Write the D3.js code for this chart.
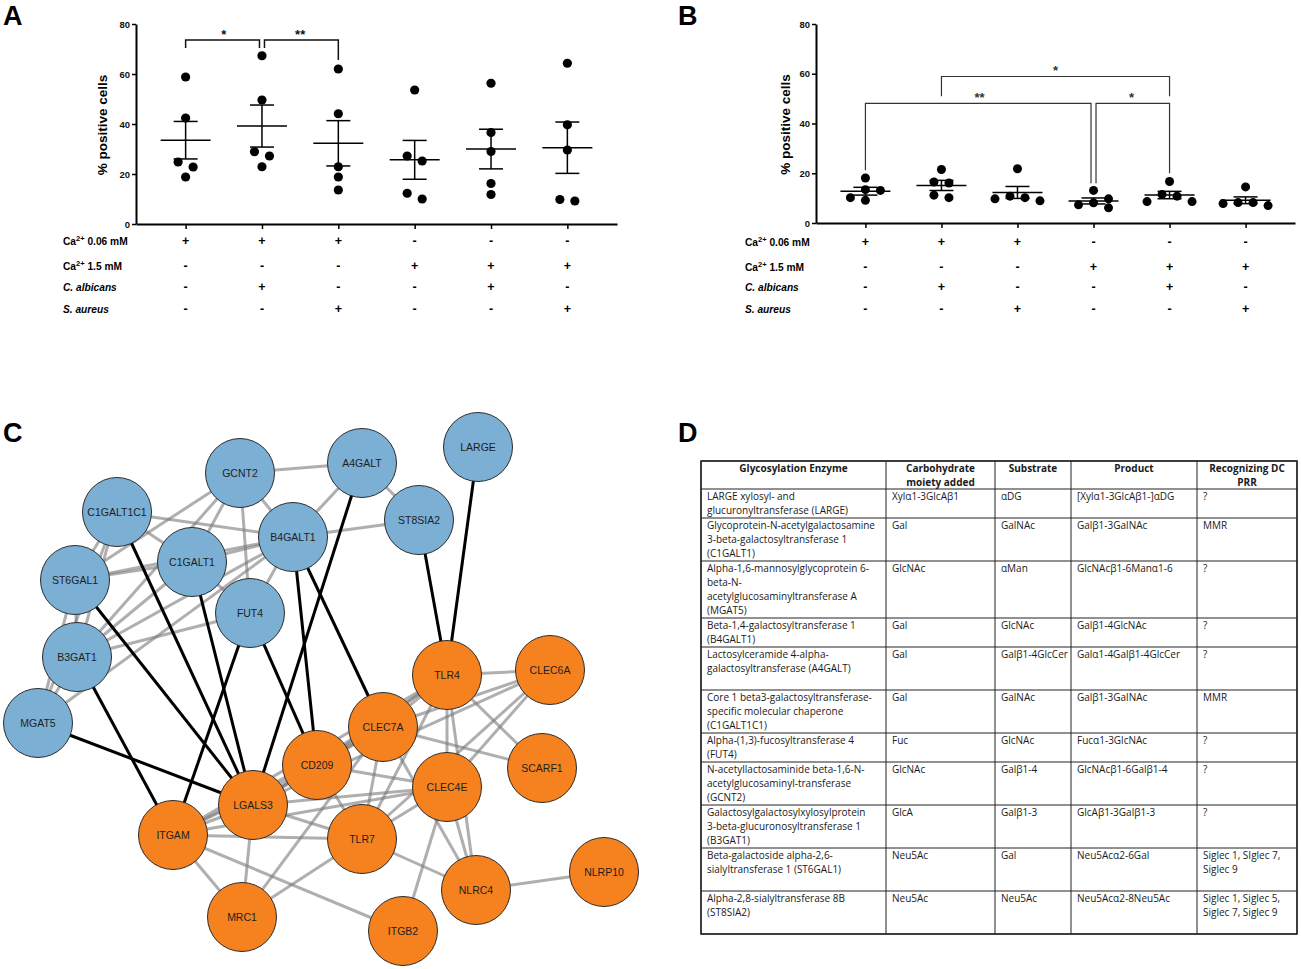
<!DOCTYPE html>
<html>
<head>
<meta charset="utf-8">
<script src="https://cdn.jsdelivr.net/npm/d3@7"></script>
<style>
  body { margin: 0; background: #fff; }
</style>
</head>
<body>
<div id="chart"></div>
<script>
const width = 1301;
const height = 969;

// ---- panels A / B : % positive cells per condition ----
const conditions = ['Ca2+ 0.06 mM', 'Ca2+ 1.5 mM', 'C. albicans', 'S. aureus'];
const condition_signs = [
  ['+', '+', '+', '-', '-', '-'],
  ['-', '-', '-', '+', '+', '+'],
  ['-', '+', '-', '-', '+', '-'],
  ['-', '-', '+', '-', '-', '+']
];
const y_ticks = [0, 20, 40, 60, 80];
const values_a = [
  [58.8, 42.4, 24.8, 22.8, 18.8],
  [67.3, 49.6, 28.9, 27.2, 22.9],
  [62.0, 44.1, 22.9, 18.8, 13.6],
  [53.6, 27.2, 25.2, 12.3, 10.0],
  [56.3, 36.6, 29.0, 16.2, 11.8],
  [64.3, 39.7, 29.6, 9.8, 9.2]
];
const values_b = [
  [18.1, 13.4, 13.1, 10.2, 9.1],
  [21.5, 16.5, 16.1, 11.2, 10.2],
  [21.8, 10.8, 10.2, 9.7, 8.9],
  [13.1, 9.7, 8.1, 7.3, 6.1],
  [16.7, 11.5, 10.8, 8.6, 8.6],
  [14.5, 8.2, 8.2, 7.8, 7.0]
];
// significance brackets (bar level and leg ends in % units)
const brackets_a = [
  { from: 0, to: 1, level: 73.6, ends: [70.4, 70.4], label: '*' },
  { from: 1, to: 2, level: 73.6, ends: [70.4, 65.6], label: '**' }
];
const brackets_b = [
  { from: 0, to: 3, level: 48.1, ends: [21.2, 16.0], label: '**' },
  { from: 1, to: 4, level: 58.9, ends: [51.0, 51.0], label: '*' },
  { from: 3, to: 4, level: 48.1, ends: [16.0, 20.0], label: '*' }
];

// ---- panel C : network ----
const enzymes = ['GCNT2', 'A4GALT', 'LARGE', 'C1GALT1C1', 'C1GALT1', 'B4GALT1', 'ST8SIA2', 'ST6GAL1', 'FUT4', 'B3GAT1', 'MGAT5'];
const receptors = ['TLR4', 'CLEC6A', 'CLEC7A', 'CD209', 'SCARF1', 'CLEC4E', 'LGALS3', 'ITGAM', 'TLR7', 'NLRC4', 'NLRP10', 'MRC1', 'ITGB2'];
// layout coordinates of the network drawing
const node_layout = {
  GCNT2: [240, 73], A4GALT: [362, 63], LARGE: [478, 47], C1GALT1C1: [117, 112],
  C1GALT1: [192, 162], B4GALT1: [293, 137], ST8SIA2: [419, 120], ST6GAL1: [75, 180],
  FUT4: [250, 213], B3GAT1: [77, 257], MGAT5: [38, 323],
  TLR4: [447, 275], CLEC6A: [550, 270], CLEC7A: [383, 327], CD209: [317, 365],
  SCARF1: [542, 368], CLEC4E: [447, 387], LGALS3: [253, 405], ITGAM: [173, 435],
  TLR7: [362, 439], NLRC4: [476, 490], NLRP10: [604, 472], MRC1: [242, 517], ITGB2: [403, 531]
};
const enzyme_links = [
  ['GCNT2', 'A4GALT'], ['GCNT2', 'ST6GAL1'], ['GCNT2', 'C1GALT1'], ['GCNT2', 'B4GALT1'],
  ['GCNT2', 'FUT4'], ['GCNT2', 'B3GAT1'], ['C1GALT1C1', 'B4GALT1'], ['C1GALT1C1', 'ST6GAL1'],
  ['C1GALT1C1', 'C1GALT1'], ['C1GALT1C1', 'B3GAT1'], ['C1GALT1C1', 'MGAT5'], ['ST6GAL1', 'C1GALT1'],
  ['ST6GAL1', 'B4GALT1'], ['ST6GAL1', 'B3GAT1'], ['ST6GAL1', 'MGAT5'], ['C1GALT1', 'B4GALT1'],
  ['C1GALT1', 'B3GAT1'], ['C1GALT1', 'FUT4'], ['B4GALT1', 'B3GAT1'], ['B4GALT1', 'ST8SIA2'],
  ['B4GALT1', 'A4GALT'], ['B4GALT1', 'FUT4'], ['B4GALT1', 'MGAT5'], ['A4GALT', 'ST8SIA2'],
  ['FUT4', 'B3GAT1'], ['B3GAT1', 'MGAT5']
];
const receptor_links = [
  ['TLR4', 'CLEC6A'], ['TLR4', 'CLEC7A'], ['TLR4', 'CD209'], ['TLR4', 'CLEC4E'], ['TLR4', 'SCARF1'],
  ['TLR4', 'TLR7'], ['TLR4', 'LGALS3'], ['TLR4', 'ITGAM'], ['TLR4', 'NLRC4'],
  ['CLEC6A', 'CLEC7A'], ['CLEC6A', 'CLEC4E'], ['CLEC6A', 'TLR7'], ['CLEC6A', 'LGALS3'],
  ['CLEC7A', 'SCARF1'], ['CLEC7A', 'CD209'], ['CLEC7A', 'TLR7'], ['CLEC7A', 'LGALS3'],
  ['CLEC7A', 'NLRC4'], ['CLEC7A', 'MRC1'], ['CLEC7A', 'ITGAM'],
  ['CLEC4E', 'LGALS3'], ['CLEC4E', 'ITGAM'], ['CLEC4E', 'TLR7'], ['CLEC4E', 'NLRC4'],
  ['CLEC4E', 'ITGB2'], ['CLEC4E', 'CD209'],
  ['CD209', 'TLR7'], ['CD209', 'LGALS3'], ['CD209', 'ITGAM'],
  ['TLR7', 'NLRC4'], ['TLR7', 'ITGAM'], ['TLR7', 'MRC1'], ['TLR7', 'LGALS3'],
  ['LGALS3', 'ITGAM'], ['LGALS3', 'MRC1'], ['ITGAM', 'MRC1'], ['ITGAM', 'ITGB2'],
  ['NLRC4', 'NLRP10']
];
const cross_links = [
  ['ST6GAL1', 'LGALS3'], ['C1GALT1C1', 'LGALS3'], ['C1GALT1', 'LGALS3'], ['A4GALT', 'LGALS3'],
  ['MGAT5', 'LGALS3'], ['B3GAT1', 'ITGAM'], ['FUT4', 'ITGAM'], ['FUT4', 'CD209'],
  ['B4GALT1', 'CD209'], ['B4GALT1', 'CLEC7A'], ['ST8SIA2', 'TLR4'], ['LARGE', 'TLR4']
];

// ---- panel D : table ----
const table_header = ['Glycosylation Enzyme', 'Carbohydrate\nmoiety added', 'Substrate', 'Product', 'Recognizing DC\nPRR'];
const enzyme_names = [
  'LARGE  xylosyl- and\nglucuronyltransferase (LARGE)',
  'Glycoprotein-N-acetylgalactosamine\n3-beta-galactosyltransferase 1\n(C1GALT1)',
  'Alpha-1,6-mannosylglycoprotein 6-\nbeta-N-\nacetylglucosaminyltransferase A\n(MGAT5)',
  'Beta-1,4-galactosyltransferase 1\n(B4GALT1)',
  'Lactosylceramide 4-alpha-\ngalactosyltransferase (A4GALT)\n',
  'Core 1 beta3-galactosyltransferase-\nspecific molecular chaperone\n(C1GALT1C1)',
  'Alpha-(1,3)-fucosyltransferase 4\n(FUT4)',
  'N-acetyllactosaminide beta-1,6-N-\nacetylglucosaminyl-transferase\n(GCNT2)',
  'Galactosylgalactosylxylosylprotein\n3-beta-glucuronosyltransferase 1\n(B3GAT1)',
  'Beta-galactoside alpha-2,6-\nsialyltransferase 1 (ST6GAL1)\n',
  'Alpha-2,8-sialyltransferase 8B\n(ST8SIA2)\n'
];
const moieties = ['Xylα1-3GlcAβ1', 'Gal', 'GlcNAc', 'Gal', 'Gal', 'Gal', 'Fuc', 'GlcNAc', 'GlcA', 'Neu5Ac', 'Neu5Ac'];
const substrates = ['αDG', 'GalNAc', 'αMan', 'GlcNAc', 'Galβ1-4GlcCer', 'GalNAc', 'GlcNAc', 'Galβ1-4', 'Galβ1-3', 'Gal', 'Neu5Ac'];
const products = ['[Xylα1-3GlcAβ1-]αDG', 'Galβ1-3GalNAc', 'GlcNAcβ1-6Manα1-6', 'Galβ1-4GlcNAc', 'Galα1-4Galβ1-4GlcCer',
  'Galβ1-3GalNAc', 'Fucα1-3GlcNAc', 'GlcNAcβ1-6Galβ1-4', 'GlcAβ1-3Galβ1-3', 'Neu5Acα2-6Gal', 'Neu5Acα2-8Neu5Ac'];
const prrs = ['?', 'MMR', '?', '?', '?', 'MMR', '?', '?', '?', 'Siglec 1, SIglec 7,\nSiglec 9', 'Siglec 1, Siglec 5,\nSiglec 7, Siglec 9'];

const svg = d3.select('#chart')
  .append('svg')
    .attr('width', width)
    .attr('height', height)
    .attr('font-family', '"Liberation Sans", Arial, sans-serif');

let panel_letter = (x, y, t) => {
  svg.append('text').attr('x', x).attr('y', y)
    .attr('font-size', 27).attr('font-weight', 'bold').text(t);
};

// dot plot layout: spread overlapping dots sideways, then centre each overlapping run
let swarm = (vals, y, d, s) => {
  const pts = vals.map(v => ({ v: v, py: y(v), dx: 0 }));
  const placed = [];
  pts.slice().sort((a, b) => b.v - a.v).forEach(p => {
    for (const k of [0, 1, -1, 2, -2, 3, -3]) {
      if (placed.every(q => Math.hypot(q.dx - k * s, q.py - p.py) >= d)) { p.dx = k * s; break; }
    }
    placed.push(p);
  });
  const by_y = pts.slice().sort((a, b) => a.py - b.py);
  let run = [by_y[0]];
  const flush = () => {
    const ext = d3.extent(run, p => p.dx);
    const shift = -(ext[0] + ext[1]) / 2;
    run.forEach(p => { p.dx += shift; });
  };
  for (let i = 1; i < by_y.length; i++) {
    if (by_y[i].py - by_y[i - 1].py < d) run.push(by_y[i]);
    else { flush(); run = [by_y[i]]; }
  }
  flush();
  return pts;
};

let condition_label = (sel, text) => {
  if (text.startsWith('Ca2+')) {
    sel.append('tspan').text('Ca');
    sel.append('tspan').attr('font-size', 7.5).attr('dy', -4).text('2+');
    sel.append('tspan').attr('dy', 4).text(text.slice(4));
  } else {
    sel.attr('font-style', 'italic').text(text);
  }
};

let scatter_panel = (cfg) => {
  const g = svg.append('g');
  const x = d3.scalePoint().domain(d3.range(cfg.values.length)).range(cfg.x_range).padding(0.65);
  const y = d3.scaleLinear().domain([0, 80]).range(cfg.y_range);

  g.append('g')
      .attr('transform', 'translate(' + cfg.x_range[0] + ',0)')
      .call(d3.axisLeft(y).tickValues(y_ticks).tickSize(4).tickSizeOuter(0).tickPadding(2))
      .call(a => {
        a.attr('font-family', null);
        a.select('.domain').attr('stroke-width', 2);
        a.selectAll('.tick line').attr('stroke-width', 1.5);
        a.selectAll('.tick text').attr('font-size', 9.5).attr('font-weight', 'bold').attr('fill', '#111');
      });
  g.append('g')
      .attr('transform', 'translate(0,' + y(0) + ')')
      .call(d3.axisBottom(x).tickSize(5).tickSizeOuter(0).tickFormat(''))
      .call(a => {
        a.select('.domain').attr('stroke-width', 2);
        a.selectAll('.tick line').attr('stroke-width', 1.5);
      });

  g.append('text')
      .attr('transform', 'translate(' + cfg.title_x + ',' + (y(40) + 1) + ') rotate(-90)')
      .attr('text-anchor', 'middle')
      .attr('font-size', 13.5).attr('font-weight', 'bold')
      .text('% positive cells');

  cfg.values.forEach((vals, i) => {
    const cx = x(i);
    const m = d3.mean(vals);
    const se = d3.deviation(vals) / Math.sqrt(vals.length);
    const gg = g.append('g').attr('stroke', '#000').attr('stroke-width', 1.5);
    gg.append('line').attr('x1', cx - 25).attr('x2', cx + 25).attr('y1', y(m)).attr('y2', y(m));
    gg.append('line').attr('x1', cx).attr('x2', cx).attr('y1', y(m - se)).attr('y2', y(m + se));
    [m - se, m + se].forEach(v => {
      gg.append('line').attr('x1', cx - 12).attr('x2', cx + 12).attr('y1', y(v)).attr('y2', y(v));
    });
    g.selectAll(null)
        .data(swarm(vals, y, 8.8, 15))
      .join('circle')
        .attr('cx', d => cx + d.dx)
        .attr('cy', d => d.py)
        .attr('r', cfg.r)
        .attr('fill', '#000');
  });

  const ends_at = new Set(cfg.brackets.map(b => b.to));
  const starts_at = new Set(cfg.brackets.map(b => b.from));
  cfg.brackets.forEach(b => {
    const x1 = x(b.from) + (ends_at.has(b.from) ? 2.5 : 0);
    const x2 = x(b.to) - (starts_at.has(b.to) ? 2.5 : 0);
    g.append('path')
        .attr('d', 'M' + x1 + ',' + y(b.ends[0]) + 'V' + y(b.level) + 'H' + x2 + 'V' + y(b.ends[1]))
        .attr('fill', 'none')
        .attr('stroke', cfg.bracket_color)
        .attr('stroke-width', cfg.bracket_width);
    g.append('text')
        .attr('x', (x(b.from) + x(b.to)) / 2)
        .attr('y', y(b.level) - 1.5)
        .attr('text-anchor', 'middle')
        .attr('font-size', 13).attr('font-weight', 'bold')
        .attr('fill', cfg.bracket_color)
        .text(b.label);
  });

  conditions.forEach((c, r) => {
    const ty = cfg.row_y[r] + 3.5;
    g.append('text')
        .attr('x', cfg.label_x).attr('y', ty)
        .attr('font-size', 10.2).attr('font-weight', 'bold')
        .call(condition_label, c);
    g.selectAll(null)
        .data(condition_signs[r])
      .join('text')
        .attr('x', (d, i) => x(i))
        .attr('y', ty + 0.5)
        .attr('text-anchor', 'middle')
        .attr('font-size', 12.5).attr('font-weight', 'bold')
        .text(d => d);
  });
};

scatter_panel({
  values: values_a, brackets: brackets_a,
  x_range: [136, 617], y_range: [224, 24],
  title_x: 107, label_x: 63, row_y: [241, 266, 287, 309],
  r: 4.6, bracket_color: '#111', bracket_width: 1.5
});
scatter_panel({
  values: values_b, brackets: brackets_b,
  x_range: [816, 1295], y_range: [223, 24],
  title_x: 790, label_x: 745, row_y: [242, 267, 287, 309],
  r: 4.5, bracket_color: '#333', bracket_width: 1.2
});

// ---- panel C ----
const net_x = d3.scaleLinear().domain([0, 650]).range([0, 650]);
const net_y = d3.scaleLinear().domain([0, 570]).range([400, 970]);
const node_color = d3.scaleOrdinal()
  .domain(['enzyme', 'receptor'])
  .range(['#7bafd4', '#f5821f']);
const nodes = enzymes.map(n => ({ id: n, kind: 'enzyme' }))
  .concat(receptors.map(n => ({ id: n, kind: 'receptor' })));
nodes.forEach(n => { n.x = net_x(node_layout[n.id][0]); n.y = net_y(node_layout[n.id][1]); });
const node_by_id = new Map(nodes.map(n => [n.id, n]));

const net = svg.append('g');
net.selectAll('line.grey')
    .data(enzyme_links.concat(receptor_links))
  .join('line')
    .attr('class', 'grey')
    .attr('x1', d => node_by_id.get(d[0]).x).attr('y1', d => node_by_id.get(d[0]).y)
    .attr('x2', d => node_by_id.get(d[1]).x).attr('y2', d => node_by_id.get(d[1]).y)
    .attr('stroke', '#7a7a7a').attr('stroke-opacity', 0.6).attr('stroke-width', 3);
net.selectAll('line.cross')
    .data(cross_links)
  .join('line')
    .attr('class', 'cross')
    .attr('x1', d => node_by_id.get(d[0]).x).attr('y1', d => node_by_id.get(d[0]).y)
    .attr('x2', d => node_by_id.get(d[1]).x).attr('y2', d => node_by_id.get(d[1]).y)
    .attr('stroke', '#000').attr('stroke-width', 3);
const node_g = net.selectAll('g.node')
    .data(nodes)
  .join('g')
    .attr('class', 'node')
    .attr('transform', d => 'translate(' + d.x + ',' + d.y + ')');
node_g.append('circle')
    .attr('r', 34.5)
    .attr('fill', d => node_color(d.kind))
    .attr('stroke', '#2b2b2b').attr('stroke-width', 1);
node_g.append('text')
    .attr('text-anchor', 'middle')
    .attr('dy', '0.36em')
    .attr('font-size', 10.5)
    .attr('fill', '#1e1e1e')
    .text(d => d.id);

// ---- panel D ----
const col_x = [701, 886, 995, 1071, 1197, 1297];
const line_h = 14;
const table_font = '"Open Sans", "Noto Sans", sans-serif';
const rows = enzyme_names.map((e, i) => [e, moieties[i], substrates[i], products[i], prrs[i]]);
const row_lines = rows.map(r => d3.max(r, c => c.split('\n').length));
const header_h = 28;
const row_top = [461 + header_h];
row_lines.forEach((n, i) => row_top.push(row_top[i] + n * line_h + 1));

const tbl = svg.append('g').attr('font-family', table_font).attr('font-size', 10).attr('fill', '#1a1a1a');
table_header.forEach((h, c) => {
  h.split('\n').forEach((ln, k) => {
    tbl.append('text')
        .attr('x', (col_x[c] + col_x[c + 1]) / 2)
        .attr('y', 461 + 11 + k * line_h)
        .attr('text-anchor', 'middle')
        .attr('font-weight', 'bold')
        .text(ln);
  });
});
rows.forEach((r, i) => {
  r.forEach((cell, c) => {
    cell.split('\n').forEach((ln, k) => {
      tbl.append('text')
          .attr('x', col_x[c] + 6)
          .attr('y', row_top[i] + 11 + k * line_h)
          .text(ln);
    });
  });
});
const grid = tbl.append('g').attr('stroke', '#222').attr('fill', 'none');
[461].concat(row_top).forEach(yv => {
  grid.append('line').attr('x1', col_x[0]).attr('x2', col_x[5]).attr('y1', yv).attr('y2', yv).attr('stroke-width', 1);
});
col_x.forEach(xv => {
  grid.append('line').attr('x1', xv).attr('x2', xv).attr('y1', 461).attr('y2', row_top[row_top.length - 1]).attr('stroke-width', 1);
});
grid.append('rect')
    .attr('x', col_x[0]).attr('y', 461)
    .attr('width', col_x[5] - col_x[0]).attr('height', row_top[row_top.length - 1] - 461)
    .attr('stroke-width', 1.5);

panel_letter(3, 25, 'A');
panel_letter(678, 25, 'B');
panel_letter(3, 442, 'C');
panel_letter(678, 442, 'D');
</script>
</body>
</html>
